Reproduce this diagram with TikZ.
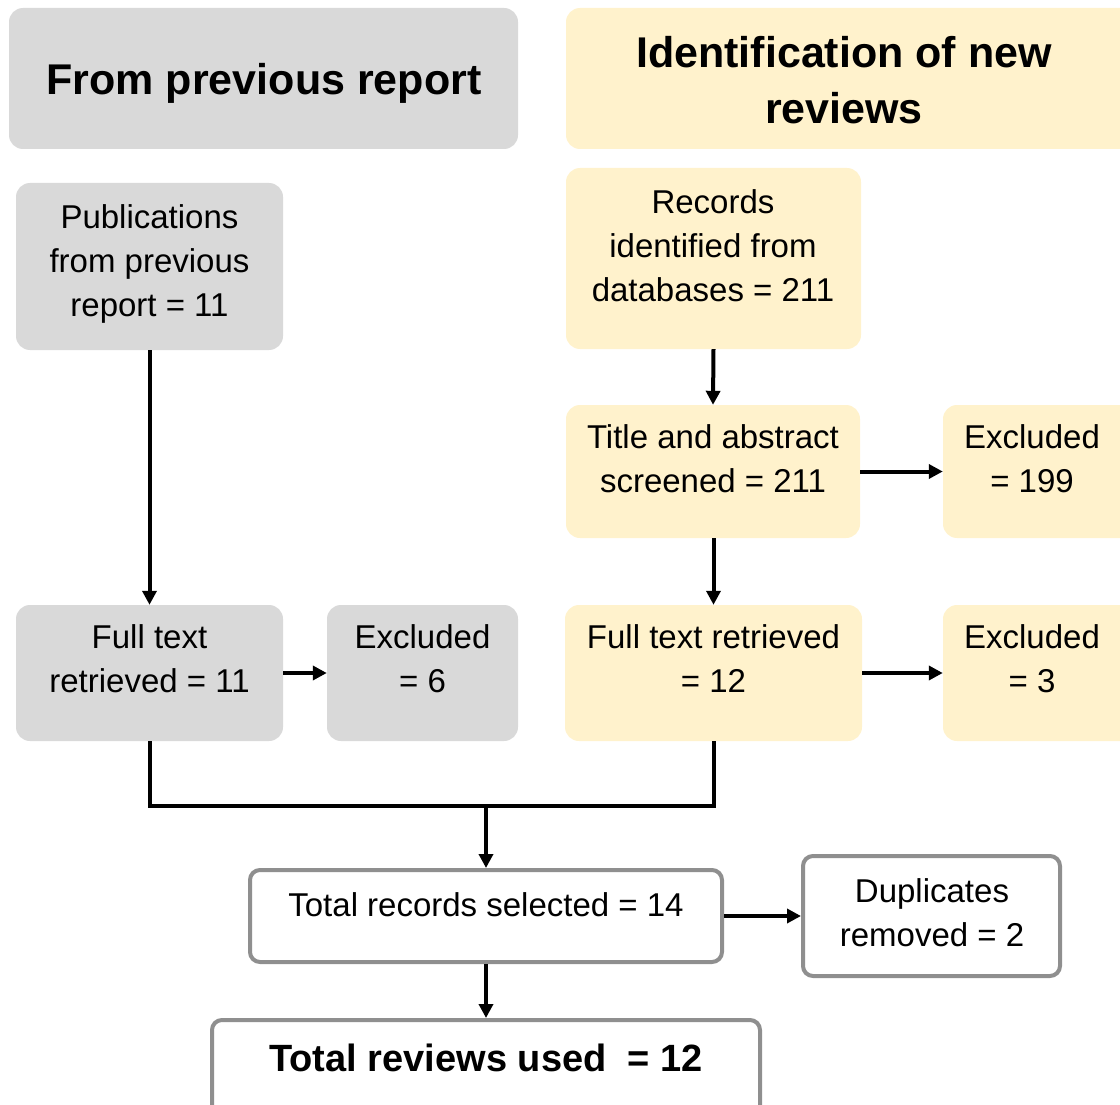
\documentclass[tikz,border=0pt]{standalone}
\usepackage{fontspec}
\setmainfont{Liberation Sans}
\usetikzlibrary{arrows.meta}
\definecolor{boxgray}{HTML}{D9D9D9}
\definecolor{boxyellow}{HTML}{FFF2CC}
\definecolor{edgegray}{HTML}{8F8F8F}

\begin{document}
\begin{tikzpicture}[x=1pt,y=-1pt,
  panel/.style={rectangle, rounded corners=14pt, inner sep=0pt},
  grayfill/.style={panel, fill=boxgray},
  yellowfill/.style={panel, fill=boxyellow},
  outlined/.style={panel, fill=white, draw=edgegray, line width=4pt, rounded corners=10pt},
  body/.style={align=center, inner sep=0pt, font=\fontsize{33}{44}\selectfont},
  heading/.style={align=center, inner sep=0pt, font=\fontsize{43}{56}\selectfont\bfseries},
  flow/.style={line width=4pt, -{Triangle[length=14pt,width=14pt]}},
  joint/.style={line width=4pt},
]
\useasboundingbox (0,0) rectangle (1120,1105);

% section headers
\node[grayfill, minimum width=509pt, minimum height=141pt] (headL) at (263.5,78.5) {};
\node[heading] (headLtxt) at (264,83) {From previous report};
\node[yellowfill, minimum width=568pt, minimum height=141pt] (headR) at (850,78.5) {};
\node[heading] (headRtxt) at (844,80) {Identification of new\\reviews};

% left column (previous report)
\node[grayfill, minimum width=267pt, minimum height=167pt] (pub) at (149.5,266.5) {};
\node[body] (pubtxt) at (149.5,264) {Publications\\from previous\\report = 11};
\node[grayfill, minimum width=267pt, minimum height=136pt] (ftL) at (149.5,673) {};
\node[body] (ftLtxt) at (149.5,659) {Full text\\retrieved = 11};
\node[grayfill, minimum width=191pt, minimum height=136pt] (exL) at (422.5,673) {};
\node[body] (exLtxt) at (422.5,659) {Excluded\\= 6};

% right column (new reviews)
\node[yellowfill, minimum width=295pt, minimum height=181pt] (rec) at (713.5,258.5) {};
\node[body] (rectxt) at (713,246) {Records\\identified from\\databases = 211};
\node[yellowfill, minimum width=294pt, minimum height=133pt] (title) at (713,471.5) {};
\node[body] (titletxt) at (713,459) {Title and abstract\\screened = 211};
\node[yellowfill, minimum width=192pt, minimum height=133pt] (exA) at (1039,471.5) {};
\node[body] (exAtxt) at (1032,459) {Excluded\\= 199};
\node[yellowfill, minimum width=297pt, minimum height=136pt] (ftR) at (713.5,673) {};
\node[body] (ftRtxt) at (713.5,659) {Full text retrieved\\= 12};
\node[yellowfill, minimum width=192pt, minimum height=136pt] (exB) at (1039,673) {};
\node[body] (exBtxt) at (1032,659) {Excluded\\= 3};

% combined results
\node[outlined, minimum width=472pt, minimum height=92pt] (tot) at (486,916) {};
\node[body] (tottxt) at (486,905) {Total records selected = 14};
\node[outlined, minimum width=257pt, minimum height=120pt] (dup) at (931.5,916) {};
\node[body] (duptxt) at (932,913) {Duplicates\\removed = 2};
\node[outlined, minimum width=548pt, minimum height=110pt] (used) at (486,1075) {};
\node[body, font=\fontsize{38}{44}\selectfont\bfseries] (usedtxt) at (486,1058) {Total reviews used \ = 12};

% connectors
\coordinate (merge) at (486,806);
\draw[flow] (pub.south) -- (ftL.north);
\draw[flow] (ftL.east) -- (exL.west);
\draw[flow] (rec.south) -- (title.north);
\draw[flow] (title.east) -- (title.east -| exA.west);
\draw[flow] (title.south -| ftR.north) -- (ftR.north);
\draw[flow] (ftR.east) -- (exB.west);
\draw[joint] (ftL.south) |- (merge) -| (ftR.south);
\draw[flow] (merge) -- (tot.north);
\draw[flow] (tot.east) -- (dup.west);
\draw[flow] (tot.south) -- (used.north);
\end{tikzpicture}
\end{document}
